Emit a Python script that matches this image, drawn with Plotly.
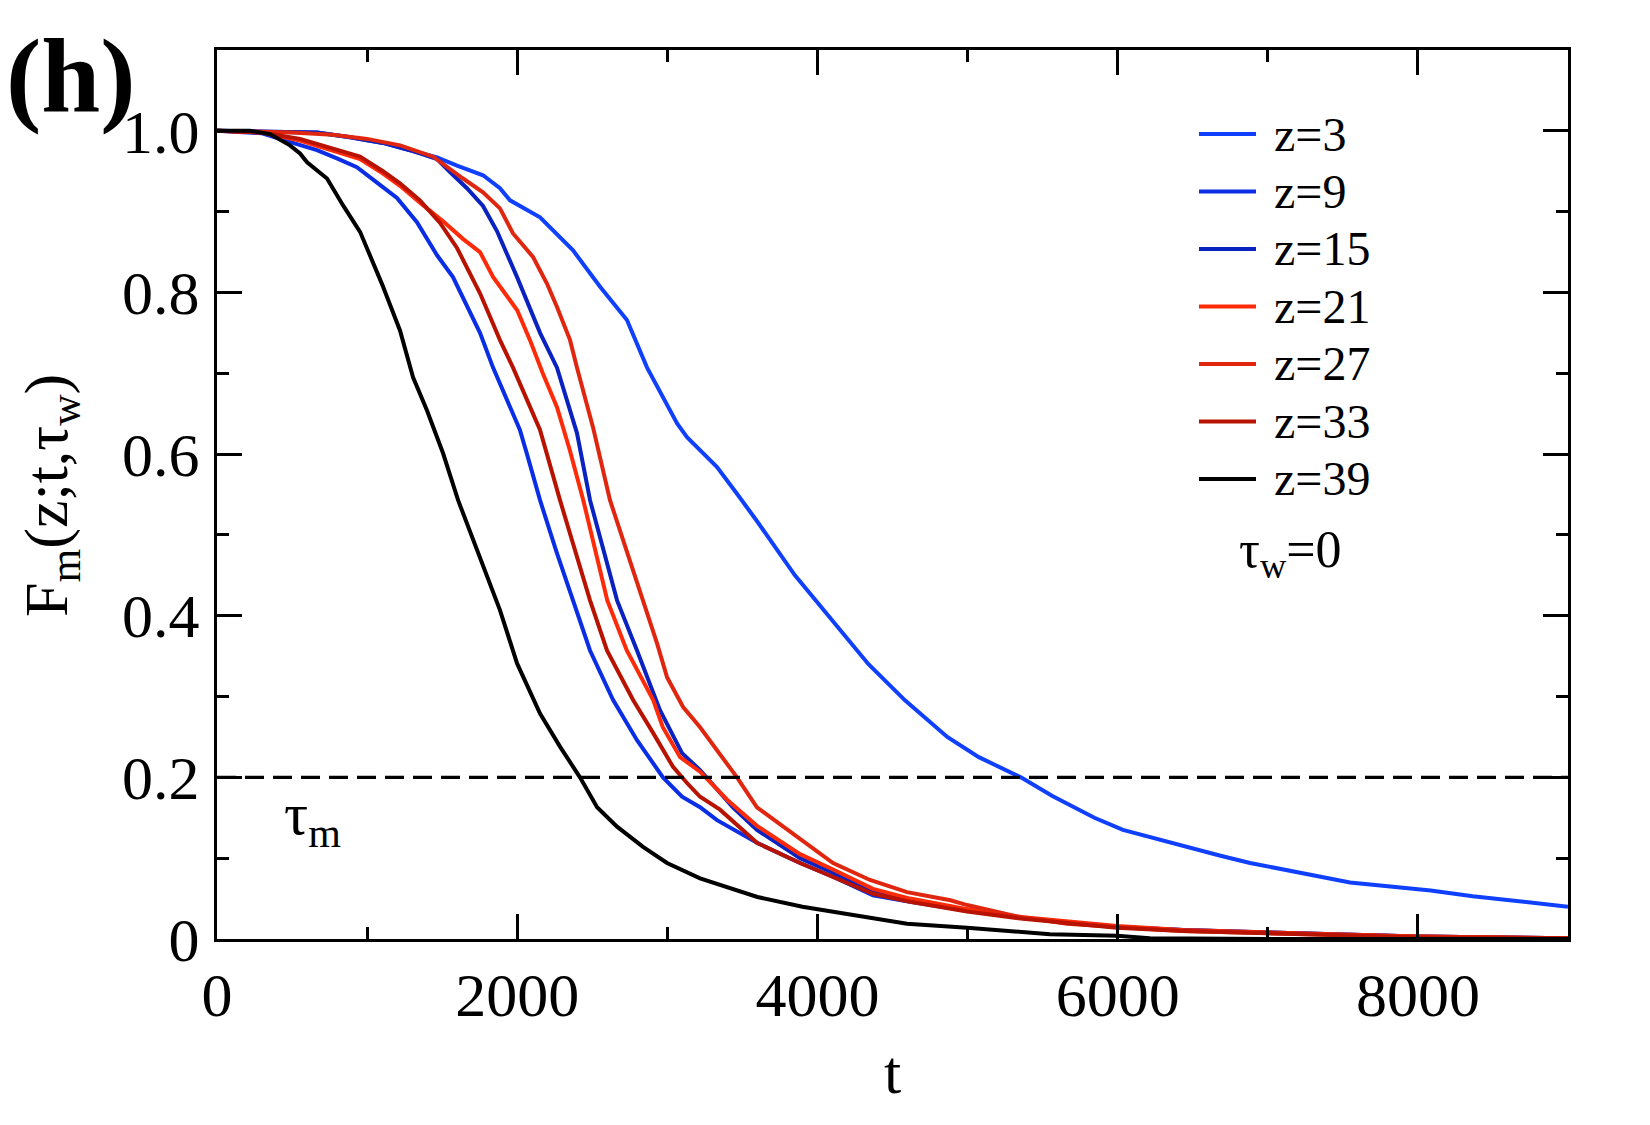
import plotly.graph_objects as go

# ---- data ----
t_z3 = [0, 300, 666, 886, 1106, 1286, 1466, 1599, 1772, 1885, 1952, 2152, 2372, 2552, 2731, 2865, 3065, 3131, 3331, 3464, 3605, 3850, 4095, 4340, 4585, 4865, 5075, 5355, 5565, 5845, 6035, 6349, 6685, 6882, 7200, 7548, 8085, 8365, 9000]
F_z3 = [1.0, 0.999, 0.998, 0.992, 0.985, 0.976, 0.967, 0.957, 0.945, 0.929, 0.914, 0.893, 0.852, 0.807, 0.766, 0.707, 0.638, 0.621, 0.584, 0.551, 0.515, 0.45, 0.395, 0.34, 0.295, 0.25, 0.225, 0.20, 0.177, 0.15, 0.135, 0.119, 0.103, 0.094, 0.082, 0.07, 0.06, 0.053, 0.04]

t_z9 = [0, 300, 506, 666, 799, 932, 1066, 1199, 1332, 1466, 1572, 1685, 1752, 1839, 1932, 2018, 2065, 2152, 2260, 2372, 2485, 2638, 2798, 2971, 3098, 3218, 3331, 3597, 3884, 4104, 4370, 4617, 4997, 5370, 5995, 6435, 6995, 7548, 8000, 9000]
F_z9 = [1.0, 0.997, 0.985, 0.976, 0.966, 0.955, 0.936, 0.917, 0.887, 0.846, 0.819, 0.774, 0.75, 0.707, 0.667, 0.63, 0.60, 0.543, 0.48, 0.419, 0.357, 0.296, 0.246, 0.20, 0.176, 0.163, 0.147, 0.119, 0.094, 0.077, 0.054, 0.046, 0.035, 0.026, 0.015, 0.011, 0.008, 0.005, 0.003, 0.001]

t_z15 = [0, 300, 500, 666, 886, 1106, 1286, 1466, 1552, 1665, 1772, 1865, 1999, 2065, 2152, 2265, 2332, 2398, 2485, 2665, 2798, 2951, 3098, 3218, 3437, 3597, 3884, 4104, 4370, 4617, 4997, 5370, 5995, 6435, 6995, 7548, 8000, 9000]
F_z15 = [1.0, 0.999, 0.998, 0.998, 0.992, 0.985, 0.976, 0.965, 0.949, 0.929, 0.907, 0.876, 0.819, 0.79, 0.75, 0.707, 0.667, 0.626, 0.543, 0.419, 0.357, 0.283, 0.23, 0.209, 0.163, 0.135, 0.10, 0.082, 0.058, 0.048, 0.036, 0.026, 0.015, 0.011, 0.008, 0.005, 0.003, 0.001]

t_z21 = [0, 300, 553, 773, 953, 1106, 1219, 1372, 1506, 1640, 1752, 1840, 1950, 2000, 2085, 2170, 2265, 2350, 2440, 2600, 2730, 2905, 2970, 3085, 3218, 3400, 3597, 3884, 4104, 4370, 4617, 4997, 5370, 5995, 6435, 6995, 7548, 8000, 9000]
F_z21 = [1.0, 0.998, 0.988, 0.976, 0.965, 0.947, 0.932, 0.908, 0.888, 0.866, 0.85, 0.819, 0.79, 0.778, 0.741, 0.70, 0.658, 0.605, 0.543, 0.419, 0.357, 0.296, 0.262, 0.225, 0.207, 0.172, 0.14, 0.105, 0.086, 0.062, 0.05, 0.037, 0.027, 0.016, 0.011, 0.008, 0.005, 0.003, 0.001]

t_z27 = [0, 300, 500, 770, 1000, 1220, 1440, 1639, 1772, 1885, 1972, 2105, 2198, 2265, 2352, 2398, 2505, 2618, 2838, 2931, 2998, 3105, 3218, 3464, 3597, 3864, 4104, 4350, 4597, 4886, 4997, 5330, 5663, 5995, 6435, 6995, 7548, 8000, 9000]
F_z27 = [1.0, 0.999, 0.998, 0.995, 0.99, 0.982, 0.968, 0.941, 0.924, 0.904, 0.873, 0.844, 0.811, 0.782, 0.741, 0.707, 0.633, 0.543, 0.419, 0.366, 0.324, 0.287, 0.262, 0.20, 0.163, 0.126, 0.094, 0.073, 0.058, 0.048, 0.042, 0.028, 0.019, 0.015, 0.01, 0.007, 0.005, 0.003, 0.001]

t_z33 = [0, 300, 553, 773, 953, 1106, 1219, 1352, 1486, 1599, 1685, 1752, 1819, 1885, 1972, 2065, 2152, 2285, 2485, 2598, 2771, 2905, 3038, 3131, 3218, 3351, 3597, 3884, 4104, 4370, 4617, 4997, 5370, 5995, 6435, 6995, 7548, 8000, 9000]
F_z33 = [1.0, 0.998, 0.99, 0.978, 0.968, 0.95, 0.935, 0.914, 0.886, 0.855, 0.824, 0.799, 0.77, 0.741, 0.707, 0.667, 0.63, 0.543, 0.419, 0.357, 0.296, 0.255, 0.213, 0.193, 0.176, 0.16, 0.119, 0.094, 0.077, 0.056, 0.046, 0.034, 0.025, 0.014, 0.01, 0.007, 0.004, 0.002, 0.001]

t_z39 = [0, 220, 353, 486, 553, 600, 733, 839, 953, 1019, 1100, 1219, 1306, 1399, 1506, 1606, 1715, 1885, 1999, 2152, 2285, 2418, 2532, 2665, 2838, 2998, 3218, 3600, 3900, 4217, 4597, 4997, 5549, 5995, 6215, 7000, 8000, 9000]
F_z39 = [1.0, 1.0, 0.996, 0.982, 0.972, 0.961, 0.941, 0.908, 0.875, 0.846, 0.81, 0.753, 0.695, 0.654, 0.601, 0.543, 0.49, 0.407, 0.341, 0.279, 0.238, 0.20, 0.163, 0.139, 0.114, 0.094, 0.075, 0.052, 0.04, 0.030, 0.019, 0.014, 0.006, 0.004, 0.001, 0.0, 0.0, 0.0]

series_names = ["z=3", "z=9", "z=15", "z=21", "z=27", "z=33", "z=39"]
series_t = [t_z3, t_z9, t_z15, t_z21, t_z27, t_z33, t_z39]
series_F = [F_z3, F_z9, F_z15, F_z21, F_z27, F_z33, F_z39]
series_colors = ["#1040ff", "#0a2ee6", "#0a22c0", "#ff2a08", "#e0260e", "#b81200", "#000000"]

tau_m_level = 0.2
t_range = [0, 9000]
F_range = [0, 1.1]
x_tickvals = [0, 2000, 4000, 6000, 8000]
x_ticktext = ["0", "2000", "4000", "6000", "8000"]
y_tickvals = [0, 0.2, 0.4, 0.6, 0.8, 1.0]
y_ticktext = ["0", "0.2", "0.4", "0.6", "0.8", "1.0"]

FONT = "Liberation Serif, Times New Roman, serif"

# plot-area geometry in pixels (for placing the hand-drawn legend)
W, H = 1650, 1125
ML, MR, MT, MB = 217, 82, 50, 186
PW, PH = W - ML - MR, H - MT - MB


def px_x(x):
    return (x - ML) / PW


def px_y(y):
    return (H - MB - y) / PH


fig = go.Figure()
for name, t, F, c in zip(series_names, series_t, series_F, series_colors):
    fig.add_trace(go.Scatter(x=t, y=F, mode="lines", name=name, showlegend=False,
                             line=dict(color=c, width=4)))

fig.add_trace(go.Scatter(x=t_range, y=[tau_m_level, tau_m_level], mode="lines",
                         showlegend=False,
                         line=dict(color="black", width=3.3, dash="19px,9px")))

axis_common = dict(
    showline=True, linecolor="black", linewidth=3, mirror="allticks",
    ticks="inside", ticklen=25, tickwidth=3, tickcolor="black",
    showgrid=False, zeroline=False,
    tickfont=dict(family=FONT, size=62, color="black"),
)

fig.update_xaxes(range=t_range, tickvals=x_tickvals, ticktext=x_ticktext,
                 minor=dict(ticks="inside", ticklen=12, tickwidth=3, dtick=1000, tickcolor="black", showgrid=False),
                 ticklabelstandoff=0, **axis_common)
fig.update_yaxes(range=F_range, tickvals=y_tickvals, ticktext=y_ticktext,
                 minor=dict(ticks="inside", ticklen=12, tickwidth=3, dtick=0.1, tickcolor="black", showgrid=False),
                 ticklabelstandoff=2, **axis_common)

# hand-drawn legend (line sample + label), matching the reference placement
shapes = []
annotations = []
row0, row_step = 134, 57.5
for i, (name, c) in enumerate(zip(series_names, series_colors)):
    yy = px_y(row0 + i * row_step)
    shapes.append(dict(type="line", xref="paper", yref="paper",
                       x0=px_x(1199), x1=px_x(1256), y0=yy, y1=yy,
                       line=dict(color=c, width=4)))
    annotations.append(dict(text=name, xref="paper", yref="paper", x=px_x(1272), y=yy,
                            xanchor="left", yanchor="middle", showarrow=False,
                            font=dict(family=FONT, size=48, color="black")))

annotations += [
    dict(text="<b>(h)</b>", xref="paper", yref="paper", x=px_x(4), y=px_y(76),
         xanchor="left", yanchor="middle", showarrow=False,
         font=dict(family=FONT, size=106, color="black")),
    dict(text="F<sub>m</sub>(z;t,τ<sub>w</sub>)", xref="paper", yref="paper",
         x=px_x(50), y=px_y(496), xanchor="center", yanchor="middle", textangle=-90,
         showarrow=False, font=dict(family=FONT, size=62, color="black")),
    dict(text="t", xref="paper", yref="paper", x=px_x(892), y=px_y(1072),
         xanchor="center", yanchor="middle", showarrow=False,
         font=dict(family=FONT, size=62, color="black")),
    dict(text="τ<sub>m</sub>", xref="paper", yref="paper", x=px_x(312), y=px_y(818),
         xanchor="center", yanchor="middle", showarrow=False,
         font=dict(family=FONT, size=60, color="black")),
    dict(text="τ<sub>w</sub>=0", xref="paper", yref="paper", x=px_x(1290), y=px_y(553),
         xanchor="center", yanchor="middle", showarrow=False,
         font=dict(family=FONT, size=52, color="black")),
]

fig.update_layout(
    width=W, height=H,
    margin=dict(l=ML, r=MR, t=MT, b=MB),
    plot_bgcolor="white", paper_bgcolor="white",
    font=dict(family=FONT, color="black"),
    showlegend=False,
    shapes=shapes,
    annotations=annotations,
)

fig.write_html("out.html")
